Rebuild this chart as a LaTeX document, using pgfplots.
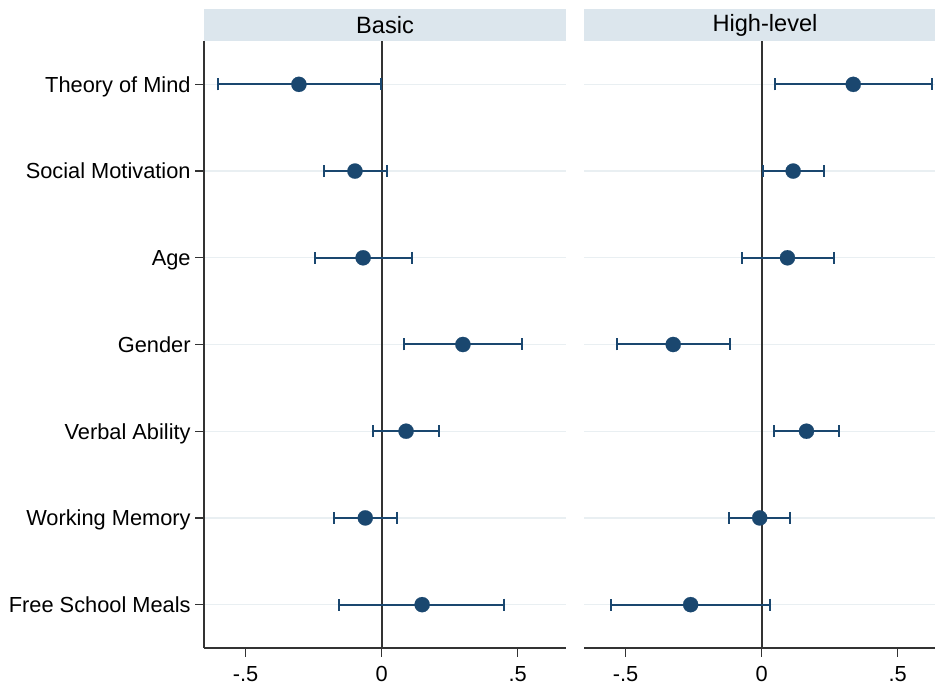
\documentclass[border=0pt]{standalone}
\usepackage{fontspec}
\setmainfont{Liberation Sans}
\usepackage{pgfplots}
\pgfplotsset{compat=1.18}
\usepackage{pgfplotstable}

\definecolor{stripc}{HTML}{DCE6ED}
\definecolor{navy}{HTML}{1A476F}
\definecolor{gridc}{HTML}{E9EFF2}
\definecolor{axc}{HTML}{333333}

% y: 7 = Theory of Mind (top) ... 1 = Free School Meals (bottom)
\pgfplotstableread{
y x lo hi
7 -0.304 -0.603 -0.003
6 -0.098 -0.212 0.019
5 -0.068 -0.245 0.111
4 0.299 0.082 0.515
3 0.090 -0.032 0.212
2 -0.060 -0.175 0.055
1 0.149 -0.156 0.450
}\basic

\pgfplotstableread{
y x lo hi
7 0.337 0.049 0.625
6 0.116 0.005 0.229
5 0.095 -0.072 0.265
4 -0.325 -0.533 -0.117
3 0.165 0.045 0.283
2 -0.007 -0.119 0.104
1 -0.261 -0.555 0.031
}\high

\pgfplotsset{
  panel/.style={
    scale only axis, width=181pt, height=303.5pt,
    xmin=-0.653, xmax=0.678, ymin=0.5, ymax=7.5,
    axis x line*=bottom, axis y line*=left,
    axis line style={axc, line width=0.7pt},
    xtick={-0.5,0,0.5}, xticklabels={-.5,0,.5},
    ytick={1,...,7},
    tick align=outside, major tick length=4.5pt,
    tick style={axc, line width=0.7pt},
    ymajorgrids, grid style={gridc, line width=0.7pt},
    tick label style={font=\fontsize{10.9}{13}\selectfont},
    xticklabel style={yshift=-1pt},
    /pgf/number format/assume math mode=true,
    clip=false,
  },
  ci/.style={navy, only marks, mark=*, mark size=3.8pt,
    mark options={fill=navy, draw=navy, line width=0.1pt},
    error bars/.cd, x dir=both, x explicit,
    error bar style={line width=1pt, navy},
    error mark options={rotate=90, mark size=3pt, line width=1pt, navy}},
}

\begin{document}
\begin{tikzpicture}
\useasboundingbox (0,0) rectangle (467.5pt,341.5pt);
\clip (0,0) rectangle (467.5pt,341.5pt);

% strips
\fill[stripc] (102pt,321pt) rectangle (283pt,337pt);
\fill[stripc] (292pt,321pt) rectangle (473pt,337pt);
\node[font=\fontsize{11.8}{14}\selectfont] at (192.5pt,329pt) {Basic};
\node[font=\fontsize{11.8}{14}\selectfont] at (382.5pt,329pt) {High-level};

\begin{axis}[panel, at={(102pt,17.5pt)}, anchor=south west,
  yticklabels={Free School Meals, Working Memory, Verbal Ability, Gender, Age, Social Motivation, Theory of Mind},
  yticklabel style={anchor=east, inner sep=0pt, text height=7.8pt, text depth=0pt, xshift=-2pt}]
\addplot[axc, line width=0.9pt, forget plot] coordinates {(0,0.5) (0,7.5)};
\addplot[ci] table[x=x, y=y, x error plus expr=\thisrow{hi}-\thisrow{x}, x error minus expr=\thisrow{x}-\thisrow{lo}] {\basic};
\end{axis}

\begin{axis}[panel, at={(292pt,17.5pt)}, anchor=south west,
  yticklabels={}, y axis line style={draw=none}, ytick style={draw=none}]
\addplot[axc, line width=0.9pt, forget plot] coordinates {(0,0.5) (0,7.5)};
\addplot[ci] table[x=x, y=y, x error plus expr=\thisrow{hi}-\thisrow{x}, x error minus expr=\thisrow{x}-\thisrow{lo}] {\high};
\end{axis}
\end{tikzpicture}
\end{document}
